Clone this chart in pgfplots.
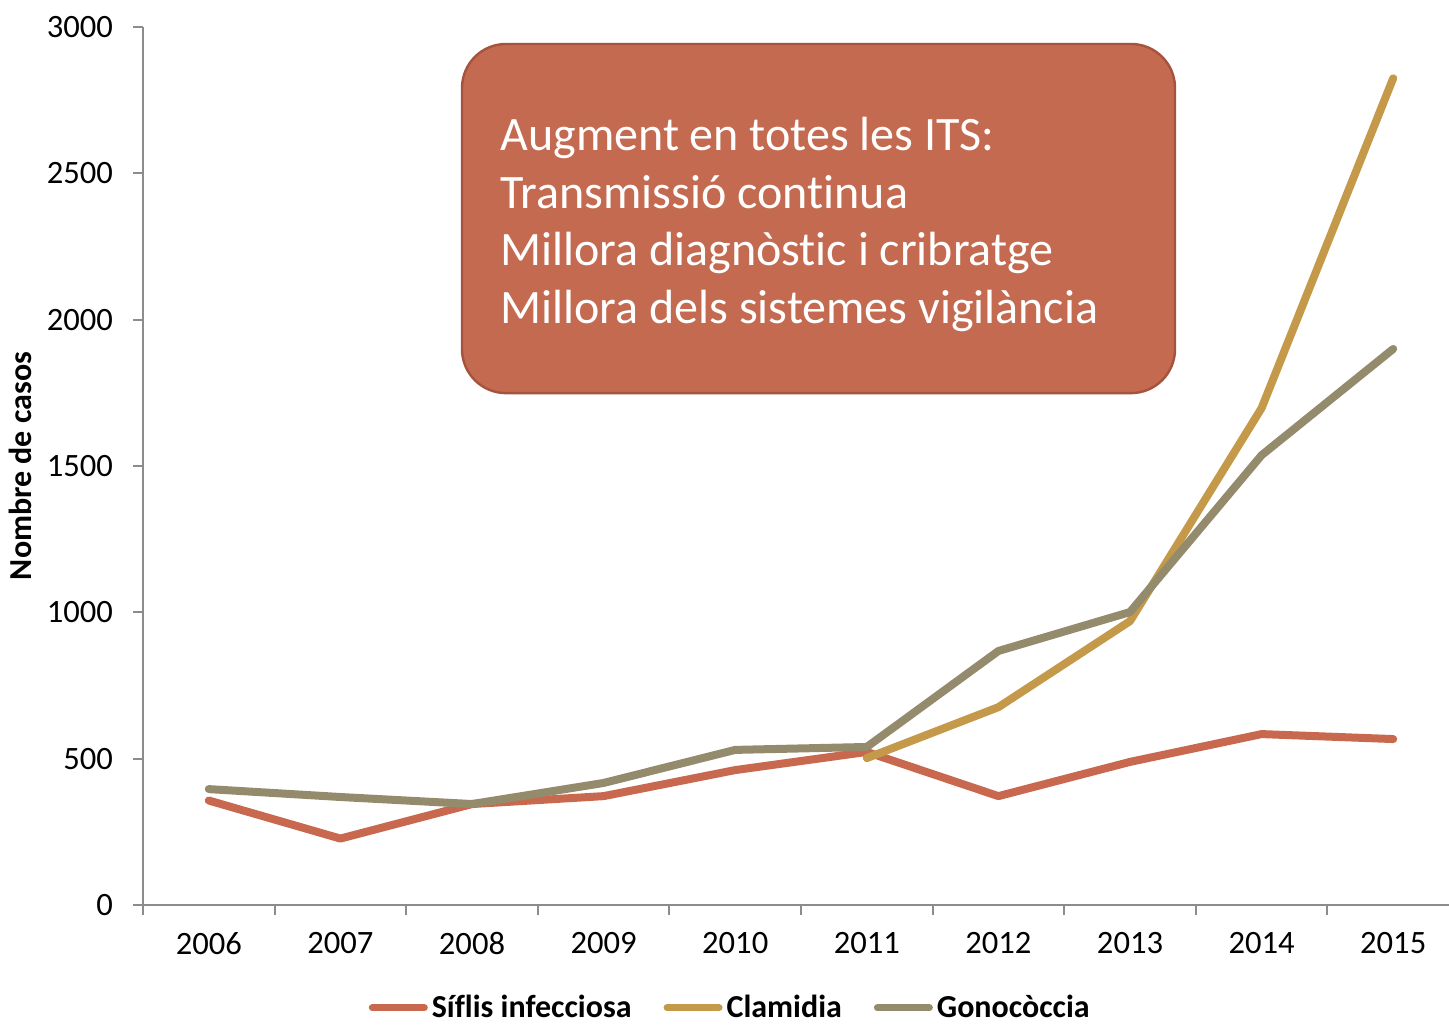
\documentclass[border=0pt]{standalone}
\usepackage{fontspec}
\setmainfont{Carlito}[Ligatures=NoCommon]
\usepackage{pgfplots}
\pgfplotsset{compat=1.18}
\definecolor{sif}{HTML}{C8694F}
\definecolor{cla}{HTML}{C49A4A}
\definecolor{gon}{HTML}{948B6D}
\definecolor{boxfill}{HTML}{C46A50}
\definecolor{boxdraw}{HTML}{A5533D}
\definecolor{axgray}{HTML}{8C8C8C}
\begin{document}
\begin{tikzpicture}[x=1pt,y=1pt]
\useasboundingbox (0,0) rectangle (724.5,512);
\begin{axis}[
  at={(71.5pt,59.5pt)}, anchor=south west,
  width=658pt, height=439pt, scale only axis,
  xmin=-0.5, xmax=9.5, ymin=0, ymax=3000,
  axis x line=bottom, axis y line=left,
  axis line style={-, draw=axgray, line width=1pt},
  tick style={draw=axgray, line width=1pt},
  tick align=outside, major tick length=5pt,
  xtick={-0.5,0.5,...,9.5},
  x tick label as interval,
  xticklabels={2006,2007,2008,2009,2010,2011,2012,2013,2014,2015},
  ytick={0,500,...,3000},
  /pgf/number format/assume math mode=true,
  /pgf/number format/1000 sep={},
  ticklabel style={font=\fontsize{16.3}{19}\selectfont, text=black},
  xticklabel style={yshift=-5pt},
  yticklabel style={xshift=-6.5pt},
  ylabel={Nombre de casos},
  ylabel style={at={(axis description cs:-0.0935,0.5)}, anchor=center, font=\fontsize{16}{19}\selectfont\bfseries},
  legend columns=3,
  legend style={at={(axis description cs:0.447,-0.117)}, anchor=center, draw=none, fill=none,
    font=\fontsize{16}{19}\selectfont\bfseries,
    /tikz/every even column/.append style={column sep=14pt}},
  legend image code/.code={\draw[#1, line width=3.5pt, line cap=round] (0pt,0pt) -- (26pt,0pt);},
  legend cell align=left,
  every axis plot/.append style={line width=4pt, line cap=round, line join=round, mark=none},
]
\draw[rounded corners=22pt, fill=boxfill, draw=boxdraw, line width=1.2pt]
  (axis cs:1.924,1749) rectangle (axis cs:7.342,2942);
\node[anchor=west, text=white, font=\fontsize{24}{28.7}\selectfont, align=left, inner sep=0pt]
  at (axis cs:2.213,2325) {Augment en totes les ITS:\\Transmissió continua\\Millora diagnòstic i cribratge\\Millora dels sistemes vigilància};
\addplot[sif] coordinates {(0,357) (1,227) (2,345) (3,372) (4,461) (5,523) (6,372) (7,489) (8,584) (9,567)};
\addlegendentry{Síflis infecciosa}
\addplot[cla] coordinates {(5,502) (6,676) (7,970) (8,1698) (9,2825)};
\addlegendentry{Clamidia}
\addplot[gon] coordinates {(0,396) (1,369) (2,345) (3,417) (4,530) (5,540) (6,868) (7,1001) (8,1537) (9,1900)};
\addlegendentry{Gonocòccia}
\end{axis}
\end{tikzpicture}
\end{document}
